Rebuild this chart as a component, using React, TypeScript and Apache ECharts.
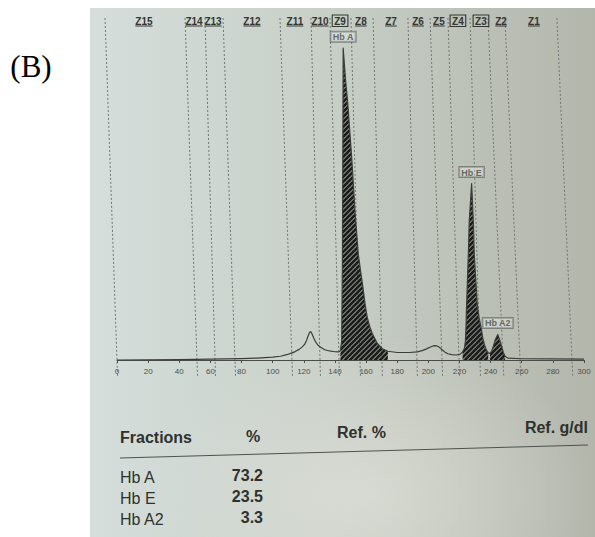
import React, { useEffect, useRef } from "react";
import * as echarts from "echarts";

// Densitometer trace: mobility (x) and relative absorbance (y)
const traceX = [
  0, 20, 40, 60, 80, 90, 100, 105, 109, 112, 114.5, 117, 119, 120.5, 121.7, 122.7, 123.5, 124.2, 124.8,
  125.5, 126.5, 127.5, 129, 131, 133.5, 136.5, 140, 142.5, 143.5, 144.3, 144.8, 145.3, 146.8, 148.3,
  150.9, 153, 155, 156.5, 158.2, 159.5, 160.8, 162.5, 164, 167, 170.4, 174, 180, 188, 193, 196, 198.5,
  201, 203, 204.5, 206, 207.5, 209, 210.5, 212.5, 215, 218, 220.5, 222, 223.2, 223.8, 224.2, 224.6,
  225.7, 226.3, 227.8, 228.9, 229.5, 231.4, 232.6, 233.8, 235, 236.4, 237.5, 238.5, 239.6, 240.6,
  241.7, 243, 244.6, 245.8, 247.1, 248.2, 249.3, 251, 260, 280, 300,
];
const traceY = [
  0, 0.05, 0.1, 0.25, 0.45, 0.6, 0.9, 1.2, 1.7, 2.2, 2.7, 3.4, 4.2, 5, 6.2, 7.6, 8.6, 9.1, 8.9,
  8.1, 6.9, 5.9, 4.8, 4, 3.3, 2.9, 2.65, 2.6, 3, 6, 30, 100, 90, 82,
  64, 47, 34, 28.5, 22.5, 17.5, 13.6, 10.5, 8.5, 5.5, 3.6, 2.8, 2.4, 2.4, 2.6, 3, 3.5,
  4.1, 4.5, 4.6, 4.4, 3.9, 3.2, 2.6, 2, 1.7, 1.6, 1.9, 2.6, 3.8, 6, 10.7, 18,
  34, 44.7, 56.6, 44.7, 34, 18, 13.5, 10.7, 7, 4.3, 3, 2.3, 2.1, 2.8,
  4.3, 6.5, 8.2, 6.5, 4.3, 2.4, 1.2, 0.6, 0.4, 0.35, 0.3,
];

// Quantified fractions
const fractionNames = ["Hb A", "Hb E", "Hb A2"];
const fractionPercent = ["73.2", "23.5", "3.3"];
const fractionFrom = [143.5, 222, 239.6];
const fractionTo = [174, 238.5, 249.3];
const fractionPeakX = [145.3, 227.8, 244.6];

// Migration zones
const zoneNames = ["Z15", "Z14", "Z13", "Z12", "Z11", "Z10", "Z9", "Z8", "Z7", "Z6", "Z5", "Z4", "Z3", "Z2", "Z1"];
const zoneLabelX = [17.3, 49.5, 61.7, 86.7, 114.3, 130.4, 143.3, 156.7, 176, 193.4, 206.8, 219, 233.8, 246.7, 267.8];
const markedZones = ["Z9", "Z4", "Z3"];
const zoneEdgeTop = [-7.7, 43.7, 56.5, 68.1, 104.7, 124.6, 136.8, 150.3, 164.5, 186.9, 201.1, 212.6, 226.8, 238.3, 249.2, 282.6];
const zoneEdgeBase = [0, 51.4, 63, 75.8, 112.4, 130.4, 142.6, 156.1, 170.2, 192.7, 208.8, 219.7, 233.2, 248, 258.9, 292.3];

// Axis range
const xMin = 0;
const xMax = 300;
const xStep = 20;
const yMax = 110;

const tableHeader = ["Fractions", "%", "Ref. %", "Ref. g/dl"];

const INK = "#2f312e";
const SANS = '"Liberation Sans", Arial, sans-serif';

function makeHatch(): HTMLCanvasElement {
  const s = 5;
  const c = document.createElement("canvas");
  c.width = s;
  c.height = s;
  const g = c.getContext("2d")!;
  g.strokeStyle = "#1c1d1b";
  g.lineWidth = 2.9;
  g.beginPath();
  g.moveTo(0, s);
  g.lineTo(s, 0);
  g.moveTo(-1, 1);
  g.lineTo(1, -1);
  g.moveTo(s - 1, s + 1);
  g.lineTo(s + 1, s - 1);
  g.stroke();
  return c;
}

const measureCtx = (() => {
  const c = document.createElement("canvas");
  return c.getContext("2d")!;
})();
function textWidth(t: string, font: string) {
  measureCtx.font = font;
  return measureCtx.measureText(t).width;
}

export default function App() {
  const ref = useRef<HTMLDivElement>(null);

  useEffect(() => {
    const el = ref.current!;
    const chart = echarts.init(el, null, { renderer: "svg" });
    const hatch = makeHatch();
    const trace = traceX.map((x, i) => [x, traceY[i]]);

    const fillSeries = fractionNames.map((name, k) => ({
      type: "line",
      name,
      data: trace.filter((p) => p[0] >= fractionFrom[k] && p[0] <= fractionTo[k]),
      symbol: "none",
      lineStyle: { width: 0 },
      areaStyle: {
        color: { image: hatch, repeat: "repeat", imageWidth: 5, imageHeight: 5 },
        opacity: 1,
      },
      z: 3,
      silent: true,
    }));

    const peaks = fractionPeakX.map((x) => [x, traceY[traceX.indexOf(x)]]);
    const zoneFont = `bold 10px ${SANS}`;

    const option: any = {
      animation: false,
      backgroundColor: "transparent",
      grid: { left: 117, right: 11, top: 17, bottom: 177 },
      xAxis: {
        type: "value",
        min: xMin,
        max: xMax,
        interval: xStep,
        axisLine: { lineStyle: { color: "#4a4c48", width: 1 } },
        axisTick: { show: true, length: 3, lineStyle: { color: "#4a4c48" } },
        axisLabel: { fontSize: 8, color: "#4d4f4b", margin: 7, fontFamily: SANS },
        splitLine: { show: false },
      },
      yAxis: { type: "value", min: 0, max: yMax, show: false },
      series: [
        {
          type: "custom",
          silent: true,
          clip: false,
          z: 1,
          data: zoneEdgeBase.map((v) => [v, 0]),
          renderItem: (params: any, api: any) => {
            const i = params.dataIndex;
            const top = api.coord([zoneEdgeTop[i], yMax]);
            const bot = api.coord([zoneEdgeBase[i], 0]);
            const ext = 16;
            const slope = (bot[0] - top[0]) / (bot[1] - top[1]);
            return {
              type: "line",
              shape: { x1: top[0], y1: top[1] + 1, x2: bot[0] + slope * ext, y2: bot[1] + ext },
              style: { stroke: "#737671", lineWidth: 1, lineDash: [2, 2] },
            };
          },
        },
        {
          type: "custom",
          silent: true,
          clip: false,
          z: 4,
          data: zoneLabelX.map((x) => [x, yMax]),
          renderItem: (params: any, api: any) => {
            const i = params.dataIndex;
            const name = zoneNames[i];
            const p = api.coord([zoneLabelX[i], yMax]);
            const cx = p[0];
            const cy = p[1] + 4;
            const w = textWidth(name, zoneFont);
            const children: any[] = [
              {
                type: "text",
                x: cx,
                y: cy,
                style: { text: name, font: zoneFont, fill: "#343632", align: "center", verticalAlign: "middle" },
              },
            ];
            if (markedZones.includes(name)) {
              children.push({
                type: "rect",
                shape: { x: cx - w / 2 - 2, y: cy - 6, width: w + 4, height: 11.5 },
                style: { fill: "none", stroke: "#343632", lineWidth: 1.1 },
              });
            } else {
              children.push({
                type: "line",
                shape: { x1: cx - w / 2, y1: cy + 5, x2: cx + w / 2, y2: cy + 5 },
                style: { stroke: "#343632", lineWidth: 1 },
              });
            }
            return { type: "group", children };
          },
        },
        {
          type: "line",
          data: trace,
          symbol: "none",
          lineStyle: { color: "#3b3d39", width: 1.2, join: "round" },
          z: 5,
          silent: true,
        },
        ...fillSeries,
        {
          type: "scatter",
          data: peaks,
          symbolSize: 1,
          itemStyle: { color: "rgba(0,0,0,0)" },
          z: 6,
          label: {
            show: true,
            position: "top",
            distance: 6,
            formatter: (p: any) => fractionNames[p.dataIndex],
            fontFamily: SANS,
            fontSize: 9,
            fontWeight: "bold",
            color: "#484a46",
            borderColor: "#6f726d",
            borderWidth: 1,
            padding: [1, 2, 0, 2],
            backgroundColor: "rgba(236,241,239,0.45)",
          },
        },
      ],
      graphic: [
        {
          type: "text",
          x: 31,
          y: 66,
          style: { text: "(B)", font: '31px "Liberation Serif", "Times New Roman", serif', fill: "#000", align: "center", verticalAlign: "middle" },
        },
        {
          type: "text",
          x: 120,
          y: 437,
          style: { text: tableHeader[0], font: `bold 16px ${SANS}`, fill: INK, align: "left", verticalAlign: "middle" },
        },
        {
          type: "text",
          x: 253,
          y: 436,
          style: { text: tableHeader[1], font: `bold 16px ${SANS}`, fill: INK, align: "center", verticalAlign: "middle" },
        },
        {
          type: "text",
          x: 337,
          y: 432,
          style: { text: tableHeader[2], font: `bold 16px ${SANS}`, fill: INK, align: "left", verticalAlign: "middle" },
        },
        {
          type: "text",
          x: 588,
          y: 427,
          style: { text: tableHeader[3], font: `bold 16px ${SANS}`, fill: INK, align: "right", verticalAlign: "middle" },
        },
        {
          type: "line",
          shape: { x1: 120, y1: 458, x2: 588, y2: 445 },
          style: { stroke: "#4f514d", lineWidth: 1 },
        },
        ...fractionNames.map((n, i) => ({
          type: "text",
          x: 120,
          y: 477 + i * 21,
          style: { text: n, font: `16px ${SANS}`, fill: INK, align: "left", verticalAlign: "middle" },
        })),
        ...fractionPercent.map((v, i) => ({
          type: "text",
          x: 263,
          y: 475 + i * 21,
          style: { text: v, font: `bold 16px ${SANS}`, fill: INK, align: "right", verticalAlign: "middle" },
        })),
      ],
    };

    chart.setOption(option);
    return () => chart.dispose();
  }, []);

  const paper =
    "radial-gradient(ellipse 45% 30% at 55% 92%, rgba(228,228,220,0.6), rgba(228,228,220,0) 100%)," +
    "linear-gradient(90deg, #d5dedb 0%, #c8d0c8 45%, #b3b6ab 100%)";

  return (
    <div style={{ position: "fixed", left: 0, top: 0, width: 595, height: 537, background: "#fff", overflow: "hidden" }}>
      <div style={{ position: "absolute", left: 90, top: 8, width: 505, height: 529, background: paper }} />
      <div ref={ref} style={{ position: "absolute", left: 0, top: 0, width: 595, height: 537 }} />
    </div>
  );
}
